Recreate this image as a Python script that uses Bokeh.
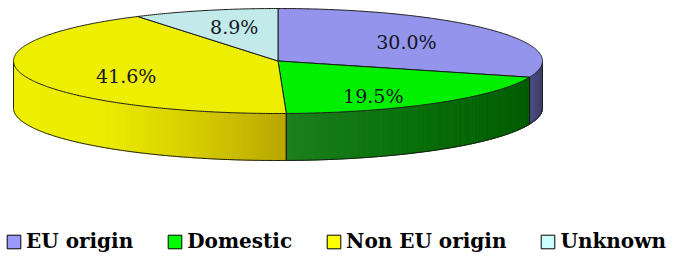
import numpy as np
from bokeh.plotting import figure
from bokeh.models import Range1d, Legend, LegendItem, ColumnDataSource
from bokeh.embed import file_html
from bokeh.resources import INLINE
from bokeh.core.properties import value

# ---- data ----
categories = ["EU origin", "Domestic", "Non EU origin", "Unknown"]
shares = [30.0, 19.5, 41.6, 8.9]
labels = ["30.0%", "19.5%", "41.6%", "8.9%"]

# ---- style ----
top_colors = ["#9494ec", "#00f000", "#eeee00", "#c2eaea"]
legend_colors = ["#9999ff", "#00ff00", "#ffff00", "#ccffff"]
side_stops = [
    ["#4c4e84", "#3a3c68"],
    ["#1c801c", "#0a700a", "#005c00"],
    ["#eeee00", "#ecec00", "#d6cc00", "#b8a600"],
    ["#a0c8c8", "#a0c8c8"],
]
OUTLINE = "#1c1c1c"

W, H = 679, 254
CX, CY, RX, RY, DEPTH = 277.5, 60.5, 264.5, 52.5, 47.0

p = figure(width=W, height=H, x_range=Range1d(0, W), y_range=Range1d(H, 0),
           output_backend="svg", toolbar_location=None, min_border=0,
           x_axis_type=None, y_axis_type=None)
p.grid.visible = False
p.outline_line_color = None
p.background_fill_color = "white"
p.border_fill_color = "white"


def ex(theta):
    return CX + RX * np.sin(np.radians(theta))


def ey(theta):
    return CY - RY * np.cos(np.radians(theta))


def hex2rgb(h):
    h = h.lstrip("#")
    return np.array([int(h[i:i + 2], 16) for i in (0, 2, 4)], dtype=float)


def interp_color(stops, t):
    t = min(max(t, 0.0), 1.0)
    if len(stops) == 1:
        return stops[0]
    pos = t * (len(stops) - 1)
    i = min(int(pos), len(stops) - 2)
    f = pos - i
    c = hex2rgb(stops[i]) * (1 - f) + hex2rgb(stops[i + 1]) * f
    return "#%02x%02x%02x" % tuple(int(round(v)) for v in c)


ends = np.cumsum(shares) / sum(shares) * 360.0
starts = np.concatenate([[0.0], ends[:-1]])

# ---- side walls (front half, 90..270 deg clockwise from top) ----
sxs, sys, scol = [], [], []
for i in range(len(categories)):
    lo, hi = max(starts[i], 90.0), min(ends[i], 270.0)
    if lo >= hi:
        continue
    n = int(np.ceil((hi - lo) / 0.5)) + 1
    th = np.linspace(lo, hi, n)
    xs_ = ex(th)
    xmin, xmax = xs_.min(), xs_.max()
    for k in range(n - 1):
        x0, x1 = ex(th[k]), ex(th[k + 1])
        y0, y1 = ey(th[k]), ey(th[k + 1])
        sxs.append([x0, x1, x1, x0])
        sys.append([y0, y1, y1 + DEPTH, y0 + DEPTH])
        t = ((x0 + x1) / 2 - xmin) / (xmax - xmin) if xmax > xmin else 0.5
        scol.append(interp_color(side_stops[i], t))

p.patches(xs="xs", ys="ys", fill_color="c", line_color="c", line_width=1,
          source=ColumnDataSource(dict(xs=sxs, ys=sys, c=scol)))

# side outlines
thb = np.linspace(90, 270, 361)
p.line(ex(thb), ey(thb) + DEPTH, line_color=OUTLINE, line_width=1)
vert = [90.0, 270.0] + [a for a in list(starts) + list(ends) if 90 < a < 270]
p.segment(x0=[ex(a) for a in vert], y0=[ey(a) for a in vert],
          x1=[ex(a) for a in vert], y1=[ey(a) + DEPTH for a in vert],
          line_color=OUTLINE, line_width=1)

# ---- top slices ----
txs, tys = [], []
for a1, a2 in zip(starts, ends):
    n = int(np.ceil((a2 - a1) / 0.5)) + 1
    th = np.linspace(a1, a2, n)
    txs.append([CX] + list(ex(th)))
    tys.append([CY] + list(ey(th)))
p.patches(xs="xs", ys="ys", fill_color="c", line_color=OUTLINE, line_width=1,
          source=ColumnDataSource(dict(xs=txs, ys=tys, c=top_colors)))

# ---- labels ----
mids = (starts + ends) / 2
LK_X, LK_Y, L_DY = 0.6, 0.75, 4.0
lx = CX + LK_X * RX * np.sin(np.radians(mids))
ly = CY - LK_Y * RY * np.cos(np.radians(mids)) + L_DY
p.text(x=lx, y=ly, text=labels, text_align="center", text_baseline="middle",
       text_font=value("DejaVu Serif"), text_font_size="19px", text_color="#141420")

# ---- legend ----
nan = [np.nan] * len(categories)
leg_src = ColumnDataSource(dict(l=nan, r=nan, t=nan, b=nan, c=legend_colors))
leg_r = p.quad(left="l", right="r", top="t", bottom="b", fill_color="c",
               line_color="#000000", line_width=1, source=leg_src)
items = [LegendItem(label=c, renderers=[leg_r], index=i) for i, c in enumerate(categories)]
legend = Legend(items=items, orientation="horizontal", location=(5, 1),
                glyph_width=17, glyph_height=17, label_standoff=4, spacing=33,
                padding=0, margin=0, border_line_color=None, background_fill_alpha=0,
                label_text_font="DejaVu Serif", label_text_font_style="bold",
                label_text_font_size="20px", label_text_color="#000000")
p.add_layout(legend)

open("out.html", "w").write(file_html(p, INLINE))
